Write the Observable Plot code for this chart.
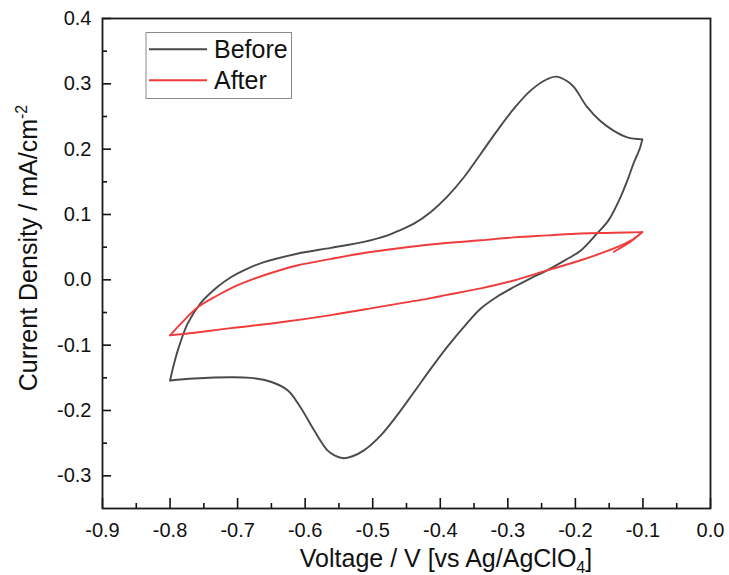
<!DOCTYPE html>
<html><head><meta charset="utf-8">
<script src="https://cdn.jsdelivr.net/npm/d3@7"></script>
<script src="https://cdn.jsdelivr.net/npm/@observablehq/plot@0.6"></script>
<style>
html,body{margin:0;padding:0;background:#fff;}
#chart svg{display:block;}
</style></head><body><div id="chart"></div>
<script>
// ---- Data ----
const seriesNames = ["Before", "After"];
const seriesColors = ["#4a4a4a", "#ef3b3b"];

// Before: cathodic branch (-0.1 V -> -0.8 V)
const beforeCathV = [-0.101,-0.104,-0.109,-0.114,-0.122,-0.133,-0.151,-0.168,-0.192,-0.217,-0.242,-0.267,-0.291,-0.316,-0.340,-0.365,-0.390,-0.414,-0.439,-0.464,-0.488,-0.513,-0.530,-0.543,-0.556,-0.567,-0.587,-0.607,-0.626,-0.651,-0.681,-0.710,-0.7645,-0.800];
const beforeCathJ = [0.215,0.203,0.190,0.178,0.155,0.127,0.091,0.071,0.045,0.029,0.0145,0.002,-0.011,-0.026,-0.044,-0.072,-0.103,-0.136,-0.172,-0.2075,-0.238,-0.261,-0.270,-0.273,-0.269,-0.261,-0.230,-0.195,-0.169,-0.156,-0.150,-0.149,-0.151,-0.154];
// Before: anodic branch (-0.8 V -> -0.1 V)
const beforeAnV = [-0.800,-0.794,-0.787,-0.774,-0.755,-0.730,-0.710,-0.690,-0.661,-0.612,-0.562,-0.513,-0.478,-0.464,-0.439,-0.414,-0.390,-0.365,-0.340,-0.316,-0.291,-0.266,-0.242,-0.229,-0.212,-0.202,-0.183,-0.163,-0.143,-0.123,-0.101];
const beforeAnJ = [-0.154,-0.128,-0.103,-0.067,-0.036,-0.011,0.004,0.015,0.027,0.040,0.049,0.058,0.068,0.074,0.086,0.104,0.127,0.157,0.193,0.228,0.262,0.290,0.307,0.311,0.304,0.295,0.265,0.243,0.228,0.218,0.215];

// After: start of scan (small hook near -0.1 V)
const afterStartV = [-0.143,-0.120,-0.101];
const afterStartJ = [0.043,0.057,0.073];
// After: cathodic branch (-0.1 V -> -0.8 V)
const afterCathV = [-0.101,-0.118,-0.143,-0.192,-0.242,-0.291,-0.340,-0.390,-0.414,-0.488,-0.562,-0.636,-0.710,-0.764,-0.800];
const afterCathJ = [0.073,0.060,0.048,0.030,0.0145,-0.001,-0.013,-0.023,-0.028,-0.041,-0.054,-0.065,-0.074,-0.081,-0.085];
// After: anodic branch (-0.8 V -> -0.1 V)
const afterAnV = [-0.800,-0.784,-0.759,-0.730,-0.710,-0.690,-0.661,-0.612,-0.562,-0.513,-0.464,-0.414,-0.340,-0.291,-0.242,-0.192,-0.143,-0.101];
const afterAnJ = [-0.085,-0.067,-0.042,-0.024,-0.013,-0.004,0.007,0.022,0.032,0.041,0.048,0.054,0.0605,0.065,0.068,0.071,0.072,0.073];

// Axis ticks
const xTicks = [-0.9,-0.8,-0.7,-0.6,-0.5,-0.4,-0.3,-0.2,-0.1,0.0];
const xMinor = [-0.85,-0.75,-0.65,-0.55,-0.45,-0.35,-0.25,-0.15,-0.05];
const yTicks = [-0.3,-0.2,-0.1,0.0,0.1,0.2,0.3,0.4];
const yMinor = [-0.25,-0.15,-0.05,0.05,0.15,0.25,0.35];

// ---- Build table ----
function branch(series, name, V, J) { return V.map((v, i) => ({series, branch: series + "-" + name, v, j: J[i]})); }
const rows = [
  ...branch("Before", "cath", beforeCathV, beforeCathJ),
  ...branch("Before", "an", beforeAnV, beforeAnJ),
  ...branch("After", "start", afterStartV, afterStartJ),
  ...branch("After", "cath", afterCathV, afterCathJ),
  ...branch("After", "an", afterAnV, afterAnJ)
];

const W = 729, H = 575, mL = 102, mR = 19, mT = 18, mB = 67;
const frameW = W - mL - mR, frameH = H - mT - mB;
const fmt = d => d.toFixed(1);

const plot = Plot.plot({
  width: W, height: H,
  marginLeft: mL, marginRight: mR, marginTop: mT, marginBottom: mB,
  style: {fontFamily: "'Liberation Sans', Arial, sans-serif", fontSize: "20px", background: "#fff", color: "#111"},
  x: {domain: [-0.9, 0], label: null},
  y: {domain: [-0.35, 0.4], label: null},
  color: {domain: seriesNames, range: seriesColors},
  marks: [
    Plot.line(rows, {x: "v", y: "j", z: "branch", stroke: "series", strokeWidth: 1.9, curve: "catmull-rom"}),
    Plot.axisX(xTicks, {tickSize: 0, tickPadding: 14, tickFormat: fmt, fontSize: 20, label: null}),
    Plot.axisY(yTicks, {tickSize: 0, tickPadding: 11, tickFormat: fmt, fontSize: 20, label: null}),
    Plot.tickX(xTicks, {x: d => d, insetTop: frameH - 10, stroke: "#111", strokeWidth: 1.6}),
    Plot.tickX(xMinor, {x: d => d, insetTop: frameH - 5, stroke: "#111", strokeWidth: 1.6}),
    Plot.tickY(yTicks, {y: d => d, insetRight: frameW - 9, stroke: "#111", strokeWidth: 1.6}),
    Plot.tickY(yMinor, {y: d => d, insetRight: frameW - 5, stroke: "#111", strokeWidth: 1.6}),
    Plot.frame({stroke: "#1a1a1a", strokeWidth: 1.8})
  ]
});

const svg = d3.select(plot);
const ff = "'Liberation Sans', Arial, sans-serif";

// X title with subscript
const xt = svg.append("text").attr("x", 446).attr("y", 566.5).attr("text-anchor", "middle")
  .attr("font-family", ff).attr("font-size", 25).attr("fill", "#111");
xt.append("tspan").text("Voltage / V [vs Ag/AgClO");
xt.append("tspan").attr("font-size", 16).attr("dy", 6).text("4");
xt.append("tspan").attr("font-size", 25).attr("dy", -6).text("]");

// Y title with superscript
const yt = svg.append("text").attr("transform", "translate(36.5,248) rotate(-90)").attr("text-anchor", "middle")
  .attr("font-family", ff).attr("font-size", 25).attr("fill", "#111");
yt.append("tspan").text("Current Density / mA/cm");
yt.append("tspan").attr("font-size", 16).attr("dy", -10).text("-2");

// Legend
const lg = svg.append("g");
lg.append("rect").attr("x", 146).attr("y", 32.5).attr("width", 145.5).attr("height", 66)
  .attr("fill", "#fff").attr("stroke", "#8a8a8a").attr("stroke-width", 1);
seriesNames.forEach((name, i) => {
  const yy = 49.3 + i * 31;
  lg.append("line").attr("x1", 149).attr("x2", 207).attr("y1", yy).attr("y2", yy)
    .attr("stroke", seriesColors[i]).attr("stroke-width", 2);
  lg.append("text").attr("x", 214).attr("y", yy + 8.5).attr("text-anchor", "start")
    .attr("font-family", ff).attr("font-size", 25).attr("fill", "#111").text(name);
});

document.getElementById("chart").appendChild(plot);
</script></body></html>
